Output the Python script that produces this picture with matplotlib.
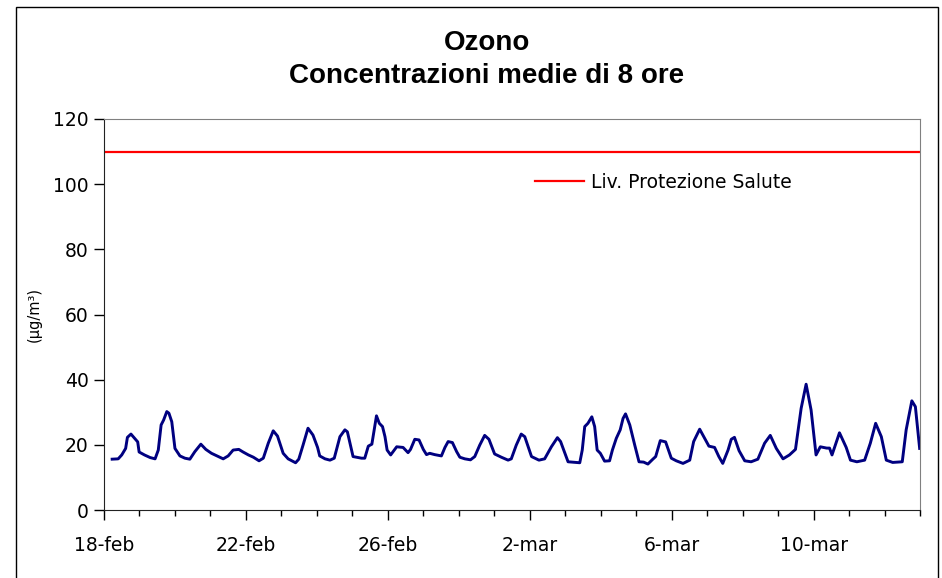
import matplotlib
matplotlib.use('Agg')
import matplotlib.pyplot as plt
from matplotlib.ticker import MultipleLocator, FixedLocator
from matplotlib.patches import Rectangle

# giorni dal 18-feb (ore 0) e concentrazioni medie di 8 ore (µg/m³)
giorni = [0.23, 0.40, 0.50, 0.61, 0.66, 0.76, 0.87, 0.95, 0.99, 1.14,
          1.30, 1.44, 1.53, 1.61, 1.68, 1.77, 1.83, 1.91, 2.00, 2.14,
          2.28, 2.42, 2.56, 2.73, 2.87, 3.03, 3.22, 3.36, 3.50, 3.64,
          3.80, 3.92, 4.07, 4.21, 4.37, 4.49, 4.63, 4.77, 4.89, 5.05,
          5.19, 5.40, 5.49, 5.61, 5.75, 5.89, 6.02, 6.08, 6.23, 6.37,
          6.49, 6.65, 6.79, 6.86, 7.02, 7.26, 7.35, 7.45, 7.55, 7.68,
          7.76, 7.85, 7.92, 7.98, 8.08, 8.25, 8.43, 8.57, 8.64, 8.76,
          8.88, 9.00, 9.09, 9.18, 9.32, 9.51, 9.61, 9.70, 9.82, 9.94,
          10.03, 10.17, 10.33, 10.45, 10.59, 10.73, 10.85, 11.01, 11.20, 11.39,
          11.48, 11.62, 11.76, 11.86, 12.05, 12.26, 12.42, 12.61, 12.78, 12.87,
          13.08, 13.41, 13.48, 13.55, 13.64, 13.75, 13.83, 13.90, 13.99, 14.11,
          14.25, 14.33, 14.44, 14.55, 14.63, 14.70, 14.82, 14.96, 15.08, 15.21,
          15.33, 15.47, 15.55, 15.68, 15.83, 15.99, 16.13, 16.32, 16.51, 16.62,
          16.79, 16.93, 17.05, 17.21, 17.33, 17.44, 17.59, 17.68, 17.77, 17.90,
          18.06, 18.24, 18.43, 18.62, 18.78, 18.95, 19.14, 19.32, 19.49, 19.65,
          19.79, 19.93, 20.07, 20.19, 20.37, 20.45, 20.52, 20.73, 20.92, 21.04,
          21.22, 21.44, 21.60, 21.75, 21.91, 22.05, 22.23, 22.50, 22.61, 22.77,
          22.87, 22.99]
ozono = [15.6, 15.7, 16.9, 18.9, 22.3, 23.3, 21.9, 20.9, 17.8, 16.9,
         16.1, 15.7, 18.4, 26.1, 27.6, 30.2, 29.7, 27.1, 18.9, 16.6,
         15.9, 15.6, 17.9, 20.2, 18.6, 17.4, 16.4, 15.7, 16.6, 18.4,
         18.6, 17.8, 16.9, 16.2, 15.1, 15.9, 20.5, 24.3, 22.7, 17.4,
         15.7, 14.5, 15.6, 19.9, 25.1, 23.0, 19.2, 16.6, 15.7, 15.3,
         15.9, 22.5, 24.6, 24.0, 16.4, 15.9, 15.9, 19.6, 20.2, 28.9,
         26.6, 25.6, 22.5, 18.4, 16.9, 19.4, 19.2, 17.6, 18.6, 21.7,
         21.5, 18.6, 17.0, 17.4, 17.0, 16.6, 19.2, 21.0, 20.7, 17.9,
         16.2, 15.7, 15.4, 16.4, 19.9, 22.9, 21.7, 17.2, 16.2, 15.3,
         15.7, 19.9, 23.3, 22.5, 16.4, 15.3, 15.7, 19.4, 22.2, 21.0,
         14.8, 14.5, 18.4, 25.6, 26.6, 28.6, 25.6, 18.4, 17.4, 15.0,
         15.1, 18.4, 22.0, 24.6, 28.1, 29.5, 26.1, 19.9, 14.8, 14.7,
         14.1, 15.6, 16.4, 21.3, 20.9, 15.9, 15.1, 14.3, 15.3, 21.0,
         24.8, 22.0, 19.6, 19.2, 16.4, 14.3, 18.4, 21.7, 22.3, 18.2,
         15.1, 14.8, 15.6, 20.5, 22.9, 18.9, 15.7, 16.9, 18.6, 31.2,
         38.6, 30.7, 16.9, 19.4, 19.0, 19.0, 16.9, 23.7, 19.2, 15.3,
         14.8, 15.3, 20.5, 26.6, 22.5, 15.3, 14.6, 14.8, 24.6, 33.5,
         31.7, 18.9]

soglia = 110  # Liv. Protezione Salute
n_giorni = 23
etichette = ['18-feb', '22-feb', '26-feb', '2-mar', '6-mar', '10-mar']
giorni_etichette = [0, 4, 8, 12, 16, 20]

plt.rcParams['font.family'] = ['DejaVu Sans']

fig = plt.figure(figsize=(9.42, 5.78), dpi=100)
ax = fig.add_axes([104/942, 68/578, 816/942, 391/578])

# cornice esterna del grafico
fig.patches.append(Rectangle((16/942, -0.01), 922/942, 1.01 - 7/578,
                             transform=fig.transFigure, fill=False,
                             edgecolor='black', linewidth=1.0))

ax.plot([0, n_giorni], [soglia, soglia], color='#ff0000', lw=1.6,
        label='Liv. Protezione Salute')
ax.plot(giorni, ozono, color='#000080', lw=2.1)

ax.set_xlim(0, n_giorni)
ax.set_ylim(0, 120)
ax.yaxis.set_major_locator(MultipleLocator(20))
ax.xaxis.set_major_locator(FixedLocator(giorni_etichette))
ax.xaxis.set_minor_locator(MultipleLocator(1))
ax.set_xticklabels(etichette)

ax.tick_params(axis='y', direction='out', length=7, width=1, labelsize=13.5, pad=4)
ax.tick_params(axis='x', which='major', direction='out', length=7, width=1,
               labelsize=13.5, pad=12)
ax.tick_params(axis='x', which='minor', direction='out', length=4, width=1)

for s in ['left', 'bottom']:
    ax.spines[s].set_color('#222222')
for s in ['top', 'right']:
    ax.spines[s].set_color('#808080')

ax.set_ylabel('(µg/m³)', fontsize=10.5, labelpad=8)

fig.text(487/942, 1 - 43/578, 'Ozono', ha='center', va='center',
         fontsize=20, fontweight='bold', family='Liberation Sans')
fig.text(487/942, 1 - 76/578, 'Concentrazioni medie di 8 ore', ha='center', va='center',
         fontsize=20, fontweight='bold', family='Liberation Sans')

leg = ax.legend(loc='center left', bbox_to_anchor=(0.508, 0.838), frameon=False,
                fontsize=13.5, handlelength=2.6, handletextpad=0.35)

fig.savefig('out.png', dpi=100)
